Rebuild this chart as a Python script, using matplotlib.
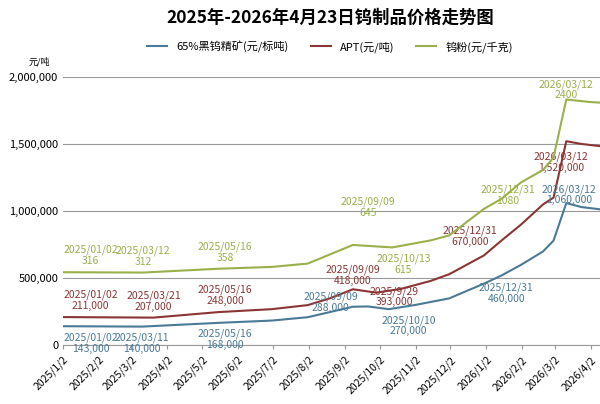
import matplotlib
matplotlib.use("Agg")
import matplotlib.pyplot as plt
import pandas as pd

plt.rcParams['font.family'] = ['Noto Sans CJK SC', 'DejaVu Sans']

conc_dates = ["2025-01-02","2025-03-11","2025-05-16","2025-07-01","2025-08-01","2025-09-09","2025-09-22","2025-10-10","2025-11-01","2025-12-01","2025-12-31","2026-01-15","2026-02-01","2026-02-20","2026-03-01","2026-03-12","2026-03-25","2026-04-23"]
conc_vals = [143000,140000,168000,185000,210000,288000,290000,270000,300000,350000,460000,520000,600000,700000,780000,1060000,1030000,1000000]

apt_dates = ["2025-01-02","2025-03-21","2025-05-16","2025-07-01","2025-08-01","2025-08-20","2025-09-09","2025-09-29","2025-10-20","2025-11-15","2025-12-01","2025-12-31","2026-01-15","2026-02-01","2026-02-20","2026-03-01","2026-03-12","2026-03-25","2026-04-23"]
apt_vals = [211000,207000,248000,270000,300000,350000,418000,393000,420000,480000,530000,670000,780000,900000,1050000,1100000,1520000,1500000,1470000]

pow_dates = ["2025-01-02","2025-03-12","2025-05-16","2025-07-01","2025-08-01","2025-09-09","2025-10-13","2025-11-15","2025-12-01","2025-12-31","2026-01-15","2026-02-01","2026-02-20","2026-03-01","2026-03-12","2026-04-01","2026-04-23"]
pow_vals = [316,312,358,380,420,645,615,700,760,1080,1200,1400,1550,1700,2400,2370,2350]

tick_labels = ["2025/1/2","2025/2/2","2025/3/2","2025/4/2","2025/5/2","2025/6/2","2025/7/2","2025/8/2","2025/9/2","2025/10/2","2025/11/2","2025/12/2","2026/1/2","2026/2/2","2026/3/2","2026/4/2"]

cb, cr, cg = "#4a7a96", "#8b3535", "#9ab04a"

fig = plt.figure(figsize=(6, 4.04), dpi=100)
ax = fig.add_axes([0.105, 0.145, 0.92, 0.665])
ax2 = ax.twinx()
cd = pd.to_datetime(conc_dates); ad = pd.to_datetime(apt_dates); pdd = pd.to_datetime(pow_dates)
l1, = ax.plot(cd, conc_vals, color=cb, lw=1.5, label="65%黑钨精矿(元/标吨)")
l2, = ax.plot(ad, apt_vals, color=cr, lw=1.5, label="APT(元/吨)")
l3, = ax2.plot(pdd, pow_vals, color=cg, lw=1.5, label="钨粉(元/千克)")
ax.set_ylim(0, 2000000)
ax2.set_ylim(-567, 2674)
ax2.set_yticks([]); ax2.spines[:].set_visible(False)
ax.set_xlim(pd.Timestamp("2025-01-02"), pd.Timestamp("2026-04-23"))
ax.set_yticks(range(0, 2000001, 500000))
ax.yaxis.set_major_formatter(matplotlib.ticker.FuncFormatter(lambda v, p: f"{int(v):,}"))
ax.tick_params(axis='y', length=0, labelsize=8)
ax.grid(axis='y', color='#999999', lw=0.8)
for s in ["top", "right", "left"]:
    ax.spines[s].set_visible(False)
ax.spines["bottom"].set_color("#999999")
ax.set_xticks(pd.to_datetime([t.replace("/", "-") for t in tick_labels]))
ax.set_xticklabels(tick_labels, rotation=45, ha='right', rotation_mode='anchor', fontsize=7.5)
ax.tick_params(axis='x', length=3, color="#999999")

def ann(a, d, v, txt, c, dx, dy):
    a.annotate(txt, (pd.Timestamp(d), v), xytext=(dx, dy), textcoords='offset points',
               color=c, fontsize=7.5, ha='center', va='center', linespacing=1.1)

ann(ax, "2025-01-02", 143000, "2025/01/02\n143,000", cb, 20, -12)
ann(ax, "2025-03-11", 140000, "2025/03/11\n140,000", cb, 0, -12)
ann(ax, "2025-05-16", 168000, "2025/05/16\n168,000", cb, 5, -12)
ann(ax, "2025-09-09", 288000, "2025/09/09\n288,000", cb, -16, 3)
ann(ax, "2025-10-10", 270000, "2025/10/10\n270,000", cb, 14, -12)
ann(ax, "2025-12-31", 460000, "2025/12/31\n460,000", cb, 16, -7)
ann(ax, "2026-03-12", 1060000, "2026/03/12\n1,060,000", cb, 2, 6)
ann(ax, "2025-01-02", 211000, "2025/01/02\n211,000", cr, 20, 12)
ann(ax, "2025-03-21", 207000, "2025/03/21\n207,000", cr, 0, 12)
ann(ax, "2025-05-16", 248000, "2025/05/16\n248,000", cr, 5, 12)
ann(ax, "2025-09-09", 418000, "2025/09/09\n418,000", cr, 0, 10)
ann(ax, "2025-09-29", 393000, "2025/9/29\n393,000", cr, 13, -3)
ann(ax, "2025-12-31", 670000, "2025/12/31\n670,000", cr, -10, 14)
ann(ax, "2026-03-12", 1520000, "2026/03/12\n1,520,000", cr, -4, -15)
ann(ax2, "2025-01-02", 316, "2025/01/02\n316", cg, 20, 12)
ann(ax2, "2025-03-12", 312, "2025/03/12\n312", cg, 0, 12)
ann(ax2, "2025-05-16", 358, "2025/05/16\n358", cg, 5, 12)
ann(ax2, "2025-09-09", 645, "2025/09/09\n645", cg, 11, 27)
ann(ax2, "2025-10-13", 615, "2025/10/13\n615", cg, 8, -12)
ann(ax2, "2025-12-31", 1080, "2025/12/31\n1080", cg, 17, 10)
ann(ax2, "2026-03-12", 2400, "2026/03/12\n2400", cg, 0, 7)

fig.text(0.55, 0.955, "2025年-2026年4月23日钨制品价格走势图", ha='center', va='center', fontsize=12.5, fontweight='bold')
fig.legend(handles=[l1, l2, l3], loc='center', bbox_to_anchor=(0.55, 0.885), ncol=3, frameon=False, fontsize=8, handlelength=1.8)
fig.text(0.065, 0.84, "元/吨", fontsize=6.5, ha='center')
fig.savefig("out.png", dpi=100)
